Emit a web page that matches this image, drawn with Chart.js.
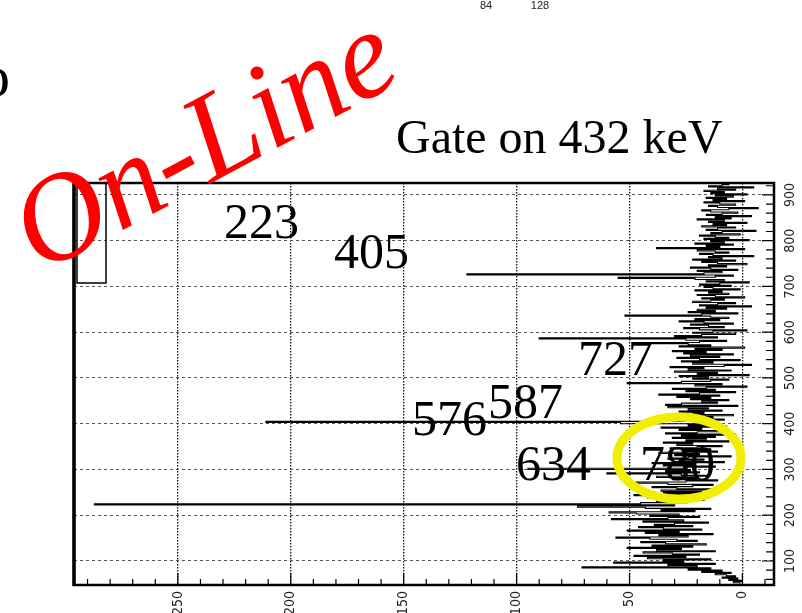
<!DOCTYPE html>
<html>
<head>
<meta charset="utf-8">
<script src="https://cdn.jsdelivr.net/npm/chart.js@4.4.1/dist/chart.umd.min.js"></script>
<style>
  html, body { margin: 0; padding: 0; background: #fff; }
  #wrap { width: 802px; height: 613px; position: relative; }
</style>
</head>
<body>
<div id="wrap"><canvas id="spectrum"></canvas></div>
<script>
// Gamma spectrum gated on 432 keV, drawn rotated (energy up the right side, counts growing to the left)
const binStart = 50;    // keV, low edge of first bin
const binWidth = 2.5;   // keV
const counts = [
  1, 4, 0, 6, 2, 9, 3, 7, 12, 5, 18, 9, 24, 14, 71, 20, 33, 12, 57, 26,            // 50-97.5
  35, 14, 42, 25, 48, 19, 31, 44, 12, 38, 27, 51, 22, 40, 16, 34, 45, 20, 29, 41,  // 100-147.5
  56, 24, 37, 13, 43, 28, 51, 18, 35, 46, 22, 39, 30, 15, 44, 26, 58, 33, 19, 41,  // 150-197.5
  28, 47, 59, 21, 36, 14, 43, 73, 30, 287, 45, 24, 38, 17, 33, 42, 26, 48, 20, 35, // 200-247.5
  18, 36, 9, 29, 40, 22, 13, 33, 47, 25, 11, 31, 20, 38, 15, 27, 60, 19, 34, 23,   // 250-297.5
  95, 26, 12, 35, 21, 40, 8, 28, 17, 33, 24, 5, 30, 19, 37, 11, 26, 14, 32, 20,    // 300-347.5
  9, 29, 22, 35, 6, 25, 16, 31, 12, 27, 3, 34, 20, 10, 28, 18, 36, 7, 24, 15,      // 350-397.5
  54, 211, 19, 8, 26, 13, 30, 4, 22, 17, 28, 9, 24, 15, 33, 2, 34, 27, 11, 18,     // 400-447.5
  6, 23, 14, 29, 10, 37, 19, 3, 25, 12, 31, 16, -2, 21, 9, 51, 27, 14, 6, 22,      // 450-497.5
  15, 28, -3, 20, 11, 30, 5, 24, 17, 32, 8, -4, 22, 13, 27, 1, 19, 29, 10, 23,     // 500-547.5
  4, 26, 16, 31, 9, 21, -1, 28, 14, 24, 45, 19, 7, 25, 90, 11, 30, 18, 3, 22,      // 550-597.5
  13, -2, 19, 26, 8, 15, 23, 4, 17, 28, 10, 21, 6, 14, 52, 18, 2, 24, 12, 20,      // 600-647.5
  7, 16, -4, 19, 11, 3, 22, 14, 8, 18, -1, 12, 20, 6, 15, 9, 21, 1, 13, 17,        // 650-697.5
  5, 19, 10, -3, 16, 8, 21, 55, 12, 4, 122, 17, 9, 20, 2, 14, 23, 7, 15, -2,       // 700-747.5
  11, 18, 3, 22, 9, 15, -5, 13, 19, 6, 12, 20, -1, 38, 10, 16, 4, 21, 8, 14,       // 750-797.5
  -3, 17, 6, 12, 19, 1, 14, 9, -6, 16, 11, 3, 18, 7, 13, -2, 15, 8, 20, 5,         // 800-847.5
  12, -4, 16, 9, 2, 14, 18, 6, -7, 11, 15, 3, 10, 17, -1, 13, 7, 16, 4, 12,        // 850-897.5
  -2, 14, 8, 17, 3, 11, -5, 15, 9, 6                                               // 900-922.5
];
const peakLabels = ['223', '405', '576', '587', '634', '727', '780'];
const countTicks = [0, 50, 100, 150, 200, 250];
const energyTicks = [100, 200, 300, 400, 500, 600, 700, 800, 900];

// histogram points: one per bin low edge, plus the closing upper edge
const points = counts.map((c, i) => ({ x: c, y: binStart + i * binWidth }));
points.push({ x: counts[counts.length - 1], y: binStart + counts.length * binWidth });

const axisFont = '"Liberation Sans Narrow", "DejaVu Sans Condensed", "Liberation Sans", sans-serif';
const serif = '"Liberation Serif", "Times New Roman", serif';

// where the peak energies are written on the slide
const labelSpots = {
  '223': [224, 238], '405': [334, 268], '576': [412, 435], '587': [488, 418],
  '634': [516, 480], '727': [578, 375], '780': [640, 480]
};

// inward ticks, rotated energy labels and the frame, ROOT style
const frame = {
  id: 'frame',
  afterDatasetsDraw(chart) {
    const { ctx, chartArea: a, scales: { x, y } } = chart;
    ctx.save();
    ctx.strokeStyle = '#000';
    ctx.lineWidth = 1.2;
    ctx.beginPath();
    for (let c = -10; c <= 290; c += 10) {
      const px = x.getPixelForValue(c);
      if (px <= a.left || px >= a.right) continue;
      const len = c % 50 === 0 ? 12 : 6;
      ctx.moveTo(px, a.bottom);
      ctx.lineTo(px, a.bottom - len);
    }
    for (let e = 60; e <= 920; e += 20) {
      const py = y.getPixelForValue(e);
      if (py <= a.top || py >= a.bottom) continue;
      const len = e % 100 === 0 ? 12 : 8;
      ctx.moveTo(a.right, py);
      ctx.lineTo(a.right - len, py);
    }
    ctx.stroke();

    ctx.lineWidth = 2.5;
    ctx.strokeRect(a.left, a.top, a.right - a.left, a.bottom - a.top);
    ctx.lineWidth = 3.5;
    ctx.beginPath();
    ctx.moveTo(a.left, a.top);
    ctx.lineTo(a.left, a.bottom + 1);
    ctx.stroke();

    // small box in the upper left corner
    ctx.lineWidth = 1.5;
    ctx.strokeRect(a.left + 3, a.top, 29, 100);

    // energy labels, turned like the rest of the figure
    ctx.fillStyle = '#222';
    ctx.font = '14px ' + axisFont;
    ctx.textAlign = 'center';
    ctx.textBaseline = 'middle';
    y.ticks.forEach(t => {
      const py = y.getPixelForValue(t.value);
      ctx.save();
      ctx.translate(a.right + 16, py);
      ctx.rotate(-Math.PI / 2);
      ctx.fillText(String(t.value), 0, 0);
      ctx.restore();
    });
    ctx.restore();
  },
  afterDraw(chart) {
    const ctx = chart.ctx;
    ctx.save();
    // highlight ring
    ctx.strokeStyle = '#f2ee00';
    ctx.lineWidth = 9;
    ctx.beginPath();
    ctx.ellipse(679, 458, 62, 41, 0, 0, Math.PI * 2);
    ctx.stroke();

    ctx.fillStyle = '#000';
    ctx.textAlign = 'left';
    ctx.textBaseline = 'alphabetic';
    ctx.font = '50px ' + serif;
    peakLabels.forEach(l => {
      const [lx, ly] = labelSpots[l];
      ctx.fillText(l, lx, ly);
    });
    ctx.font = '48px ' + serif;
    ctx.fillText('Gate on 432 keV', 396, 153);

    // bits of the neighbouring figure on the slide
    ctx.font = '60px ' + serif;
    ctx.fillText('o', -20, 96);
    ctx.fillStyle = '#222';
    ctx.font = '11px "Liberation Sans", sans-serif';
    ctx.textAlign = 'center';
    ctx.fillText('84', 486, 9);
    ctx.fillText('128', 540, 9);

    // red stamp
    ctx.fillStyle = '#ff0000';
    ctx.font = 'italic 124px ' + serif;
    ctx.textAlign = 'left';
    ctx.translate(40, 274);
    ctx.rotate(-28 * Math.PI / 180);
    ctx.fillText('On-Line', 0, 0);
    ctx.restore();
  }
};

new Chart(document.getElementById('spectrum'), {
  type: 'scatter',
  data: {
    datasets: [{
      label: 'Gate on 432 keV',
      data: points,
      showLine: true,
      stepped: 'after',
      borderColor: '#000',
      borderWidth: 1.1,
      pointRadius: 0,
      pointHoverRadius: 0
    }]
  },
  options: {
    responsive: true,
    maintainAspectRatio: false,
    animation: false,
    layout: { padding: { left: 74, top: 183, right: 0, bottom: 0 } },
    plugins: { legend: { display: false }, tooltip: { enabled: false } },
    scales: {
      x: {
        type: 'linear',
        position: 'bottom',
        reverse: true,
        min: -14,
        max: 296,
        afterBuildTicks: s => { s.ticks = countTicks.map(v => ({ value: v })); },
        afterFit: s => { s.height = 28; },
        ticks: {
          includeBounds: false,
          minRotation: 90,
          maxRotation: 90,
          padding: 6,
          color: '#222',
          font: { family: axisFont, size: 14 }
        },
        grid: { color: '#111', lineWidth: 1.3, drawTicks: false },
        border: { display: false, dash: [1.5, 1.5] }
      },
      y: {
        type: 'linear',
        position: 'right',
        min: 47.5,
        max: 926,
        afterBuildTicks: s => { s.ticks = energyTicks.map(v => ({ value: v })); },
        afterFit: s => { s.width = 28; },
        ticks: { display: false },
        grid: { color: '#555', lineWidth: 1, drawTicks: false },
        border: { display: false, dash: [3, 3] }
      }
    }
  },
  plugins: [frame]
});
</script>
</body>
</html>
